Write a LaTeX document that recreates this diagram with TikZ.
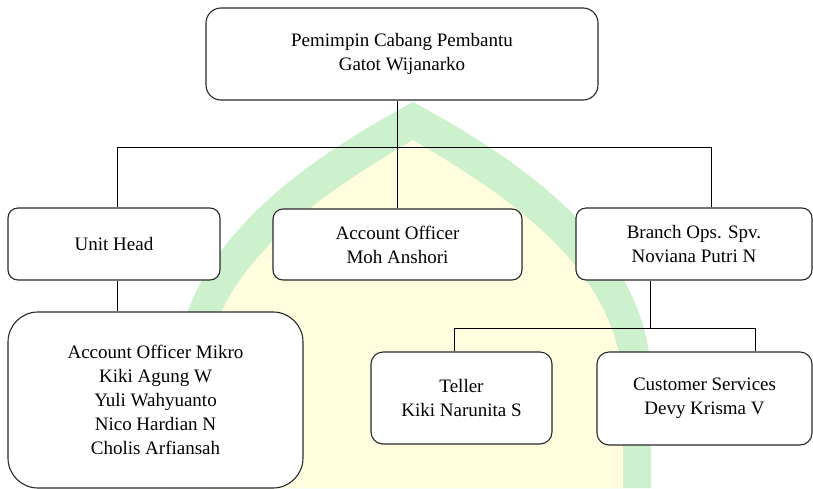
\documentclass[tikz,border=0pt]{standalone}
\usepackage{fontspec}
\setmainfont{Liberation Serif}[Ligatures=TeX]
\usepackage{tikz}
\usetikzlibrary{positioning,calc}
\definecolor{markgreen}{RGB}{204,241,204}
\definecolor{markyellow}{RGB}{255,253,222}
\definecolor{boxrule}{RGB}{40,40,40}
\tikzset{
  orgbox/.style={rectangle,rounded corners=10pt,draw=boxrule,line width=1.1pt,fill=white,align=center,inner sep=0pt,font=\rmfamily\fontsize{19}{24}\selectfont},
  bigbox/.style={orgbox,rounded corners=30pt},
  link/.style={draw=black,line width=0.8pt}
}

\begin{document}
\begin{tikzpicture}[x=1pt,y=-1pt]
  \clip (0,0) rectangle (813,488);
  \fill[white] (0,0) rectangle (813,488);
  \fill[markgreen] (413,102) .. controls (300,163) and (176,250) .. (175,380) -- (175,488)
    -- (651,488) -- (651,380) .. controls (650,250) and (526,163) .. (413,102) -- cycle;
  \fill[markyellow] (413,140) .. controls (320,195) and (204,270) .. (203,390) -- (203,488)
    -- (623,488) -- (623,390) .. controls (622,270) and (506,195) .. (413,140) -- cycle;
  \node[orgbox,rounded corners=15pt,minimum width=392pt,minimum height=92pt] (head) at (402,54) {Pemimpin Cabang Pembantu\\Gatot Wijanarko};
  \node[orgbox,minimum width=212pt,minimum height=72pt] (unit) at (114,244) {Unit Head};
  \node[orgbox,minimum width=249pt,minimum height=71pt] (ao) at (397.5,244.5) {Account Officer\\Moh Anshori};
  \node[orgbox,minimum width=236pt,minimum height=72pt] (ops) at (694,244) {Branch Ops. Spv.\\Noviana Putri N};
  \node[bigbox,minimum width=295pt,minimum height=176pt] (mikro) at (155.5,400) {Account Officer Mikro\\Kiki Agung W\\Yuli Wahyuanto\\Nico Hardian N\\Cholis Arfiansah};
  \node[orgbox,rounded corners=12pt,minimum width=181pt,minimum height=92pt] (teller) at (461.5,398) {Teller\\Kiki Narunita S};
  \node[orgbox,rounded corners=12pt,minimum width=215pt,minimum height=93pt] (cs) at (704.5,398.5) {Customer Services\\Devy Krisma V};
  \coordinate (busL) at (117,147);
  \coordinate (busR) at (711,147);
  \coordinate (opsTap) at (650,328);
  \coordinate (tellerTap) at (454,328);
  \coordinate (csTap) at (755,328);
  \draw[link] (ao.north) -- (ao.north |- head.south);
  \draw[link] (unit.north -| busL) |- (busR) -- (ops.north -| busR);
  \draw[link] (unit.south -| busL) -- (mikro.north -| busL);
  \draw[link] (ops.south -| opsTap) -- (opsTap);
  \draw[link] (teller.north -| tellerTap) |- (csTap) -- (cs.north -| csTap);
\end{tikzpicture}
\end{document}
